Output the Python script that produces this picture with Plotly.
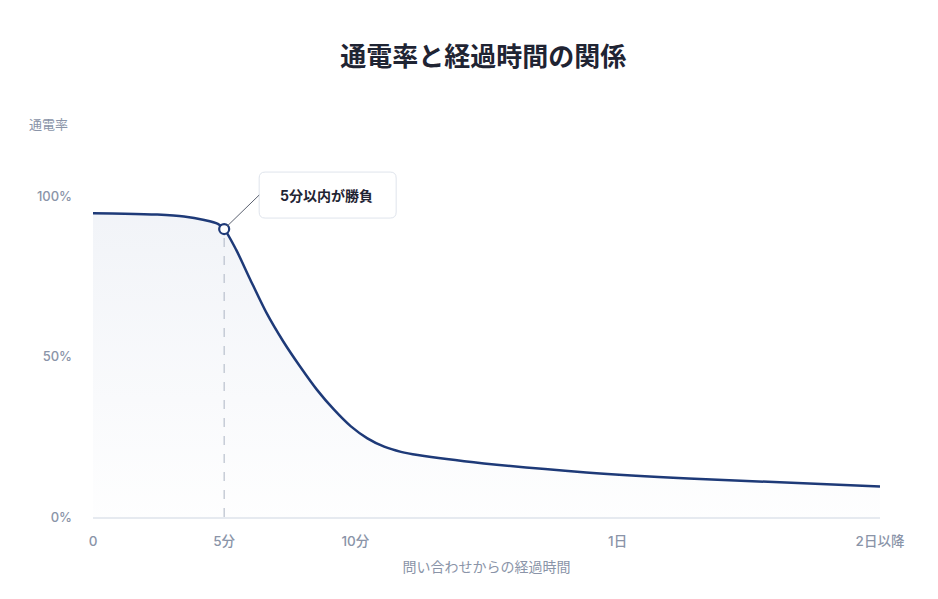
import plotly.graph_objects as go

# --- data ---
elapsed = [0, 1.2, 2.45, 3.47, 4.24, 4.76, 5, 5.46, 5.97, 6.62, 7.26, 7.9, 8.54, 9.18, 9.82,
           10.46, 11.1, 11.74, 12.38, 14.9, 18.8, 22.7, 30]
rate = [94.6, 94.5, 94.2, 93.6, 92.5, 91.3, 89.7, 83.2, 74.4, 63.5, 54.6, 46.8, 39.6, 33.5, 28.3,
        24.5, 21.9, 20.3, 19.3, 16.7, 13.9, 12.0, 9.5]

tick_pos = [0, 5, 10, 20, 30]
tick_labels = ["0", "5分", "10分", "1日", "2日以降"]
y_ticks = [0, 50, 100]
y_labels = ["0%", "50%", "100%"]

focus_x = 5
focus_y = 89.7
focus_text = "5分以内が勝負"

x_range = [0, 30]
y_range = [0, 100]

# --- styles ---
navy = "#1e3a78"
muted = "#8a94a8"
dark = "#1f2433"
font_family = "Inter, Noto Sans CJK JP, sans-serif"

# callout box (pixels relative to the highlighted point, y up)
bx0, bx1, by0, by1, r = 35, 172, 11, 57, 6

fig = go.Figure()

# area + curve
fig.add_trace(go.Scatter(
    x=elapsed, y=rate,
    mode="lines",
    line=dict(color=navy, width=2.5, shape="spline", smoothing=0.8),
    fill="tozeroy",
    fillgradient=dict(
        type="vertical",
        colorscale=[[0, "rgba(214,221,234,0.03)"], [1, "rgba(214,221,234,0.33)"]],
    ),
    hoverinfo="skip",
    showlegend=False,
))

# dashed guide at 5 min
fig.add_trace(go.Scatter(
    x=[focus_x, focus_x], y=[0, focus_y],
    mode="lines",
    line=dict(color="#b9c0cd", width=1.2, dash="dash"),
    hoverinfo="skip",
    showlegend=False,
))

# highlight point
fig.add_trace(go.Scatter(
    x=[focus_x], y=[focus_y],
    mode="markers",
    marker=dict(symbol="circle", size=10, color="white", line=dict(color=navy, width=2.2)),
    hoverinfo="skip",
    showlegend=False,
))

# rounded callout box (paper refs so it is not clipped by the plot area)
box_path = (
    f"M {bx0 + r},{by0} L {bx1 - r},{by0} Q {bx1},{by0} {bx1},{by0 + r} "
    f"L {bx1},{by1 - r} Q {bx1},{by1} {bx1 - r},{by1} "
    f"L {bx0 + r},{by1} Q {bx0},{by1} {bx0},{by1 - r} "
    f"L {bx0},{by0 + r} Q {bx0},{by0} {bx0 + r},{by0} Z"
)
fig.add_shape(
    type="path", path=box_path,
    xref="paper", yref="paper", xsizemode="pixel", ysizemode="pixel",
    xanchor=(focus_x - x_range[0]) / (x_range[1] - x_range[0]),
    yanchor=(focus_y - y_range[0]) / (y_range[1] - y_range[0]),
    fillcolor="white", line=dict(color="#dfe4ec", width=1),
    layer="above",
)

fig.add_annotation(
    x=focus_x, y=focus_y, xref="x", yref="y",
    text=f"<b>{focus_text}</b>",
    showarrow=True, arrowhead=0, arrowwidth=1, arrowcolor="#5b6170",
    ax=bx0, ay=-(by0 + by1) / 2, standoff=4,
    xanchor="left", yanchor="middle",
    width=bx1 - bx0 - 8, height=by1 - by0 - 8, borderpad=3,
    bgcolor="rgba(0,0,0,0)", borderwidth=0,
    font=dict(size=14, color=dark, family=font_family),
)

# y-axis label at top left
fig.add_annotation(
    x=0, y=1, xref="paper", yref="paper",
    xanchor="right", yanchor="middle",
    xshift=-23, yshift=72,
    text="通電率", showarrow=False,
    font=dict(size=13, color=muted, family=font_family),
)

fig.update_xaxes(
    range=x_range,
    tickvals=tick_pos, ticktext=tick_labels,
    showgrid=False, zeroline=False,
    showline=True, linecolor="#e6eaf0", linewidth=2,
    ticks="", ticklabelstandoff=11,
    tickfont=dict(size=13.5, color=muted, family=font_family, weight=500),
    title=dict(text="問い合わせからの経過時間", standoff=14,
               font=dict(size=14, color=muted, family=font_family)),
)
fig.update_yaxes(
    range=y_range,
    tickvals=y_ticks, ticktext=y_labels,
    showgrid=False, zeroline=False, showline=False,
    ticks="", ticklabelstandoff=20,
    tickfont=dict(size=13, color=muted, family=font_family, weight=500),
)

# page adds an 8px body margin, so the figure is 8px smaller each way
fig.update_layout(
    width=930, height=591,
    title=dict(
        text="<b>通電率と経過時間の関係</b>",
        x=0.496, xref="paper", xanchor="center",
        y=1 - 49 / 591, yanchor="middle",
        font=dict(size=26, color=dark, family="Noto Sans CJK JP, sans-serif"),
    ),
    margin=dict(l=85, r=58, t=188, b=82),
    plot_bgcolor="white",
    paper_bgcolor="white",
)

fig.write_html("out.html")
